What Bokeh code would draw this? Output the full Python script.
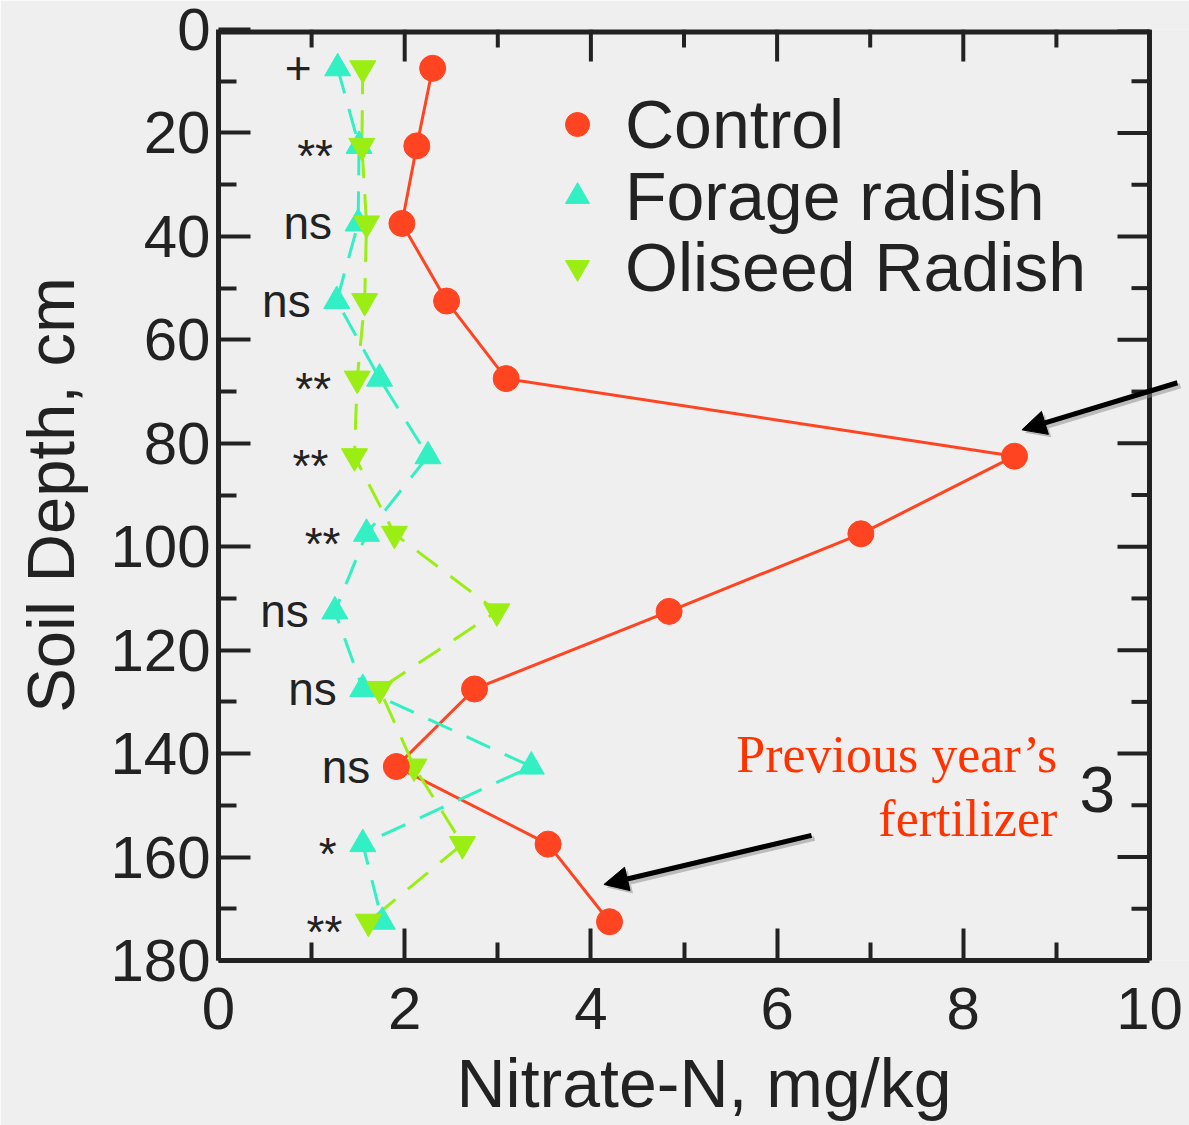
from bokeh.plotting import figure
from bokeh.models import (Range1d, Legend, LegendItem, Arrow, NormalHead,
                          Label, ColumnDataSource, FixedTicker)
from bokeh.embed import file_html
from bokeh.resources import INLINE
from bokeh.core.properties import value

# ---------------- data ----------------
depth = [7.5, 22.5, 37.5, 52.5, 67.5, 82.5, 97.5, 112.5, 127.5, 142.5, 157.5, 172.5]
control = [2.30, 2.13, 1.97, 2.45, 3.09, 8.55, 6.90, 4.84, 2.75, 1.91, 3.54, 4.20]
forage_radish = [1.28, 1.51, 1.50, 1.27, 1.73, 2.25, 1.59, 1.25, 1.55, 3.36, 1.55, 1.76]
oilseed_radish = [1.55, 1.54, 1.59, 1.57, 1.49, 1.46, 1.89, 2.99, 1.73, 2.10, 2.62, 1.61]
significance = ["+", "**", "ns", "ns", "**", "**", "**", "ns", "ns", "ns", "*", "**"]
series_names = ["Control", "Forage radish", "Oliseed Radish"]
x_ticks = [0, 2, 4, 6, 8, 10]
y_ticks = [0, 20, 40, 60, 80, 100, 120, 140, 160, 180]

# ---------------- styles / layout ----------------
FONT = "Liberation Sans"
INK = "#222222"
BG = "#EFEFEF"
C_CONTROL = "#FF4422"
C_FORAGE = "#33F0C4"
C_OILSEED = "#9BEE14"

W, H = 1189, 1125
LEFT, TOP, BOTTOM = 218, 29, 165
AXIS_PX = 931                       # pixels spanned by 0..10 and by 0..180
X_MAX = x_ticks[-1] * (W - LEFT) / AXIS_PX   # frame extends right so arrows can reach the margin
PX_PER_X = AXIS_PX / x_ticks[-1]
PX_PER_Y = AXIS_PX / y_ticks[-1]
MAJ_LEN, MIN_LEN = 32, 18

p = figure(width=W, height=H, x_range=Range1d(0, X_MAX), y_range=Range1d(y_ticks[-1], 0),
           output_backend="svg", toolbar_location=None,
           min_border_left=LEFT, min_border_right=0, min_border_top=TOP,
           min_border_bottom=BOTTOM)
p.background_fill_color = BG
p.border_fill_color = BG
p.outline_line_color = None
p.xgrid.grid_line_color = None
p.ygrid.grid_line_color = None

def minors(ticks):
    step = ticks[1] - ticks[0]
    return [t + step / 2 for t in ticks[:-1]]

def style_axis(ax, ticks):
    ax.ticker = FixedTicker(ticks=ticks, minor_ticks=minors(ticks))
    ax.bounds = (ticks[0], ticks[-1])
    ax.axis_line_color = INK
    ax.axis_line_width = 5
    ax.major_tick_line_color = INK
    ax.major_tick_line_width = 4
    ax.minor_tick_line_color = INK
    ax.minor_tick_line_width = 4
    ax.major_tick_in = MAJ_LEN
    ax.major_tick_out = 0
    ax.minor_tick_in = MIN_LEN
    ax.minor_tick_out = 0
    ax.major_label_text_font = FONT
    ax.major_label_text_color = INK
    ax.major_label_text_font_size = "60px"
    ax.axis_label_text_font = FONT
    ax.axis_label_text_color = INK
    ax.axis_label_text_font_style = "normal"

style_axis(p.xaxis[0], x_ticks)
style_axis(p.yaxis[0], y_ticks)
p.xaxis.axis_label = "Nitrate-N, mg/kg"
p.yaxis.axis_label = "Soil Depth, cm"
p.xaxis.axis_label_text_font_size = "68px"
p.yaxis.axis_label_text_font_size = "67px"
p.xaxis.major_label_standoff = 27
p.xaxis.axis_label_standoff = 13
p.yaxis.major_label_standoff = 8
p.yaxis.axis_label_standoff = 19

# top and right edges of the box with inward ticks (mirror of the axes)
x0, x1 = x_ticks[0], x_ticks[-1]
y0, y1 = y_ticks[0], y_ticks[-1]
p.segment(x0=[x0], y0=[y0], x1=[x1], y1=[y0], line_color=INK, line_width=10)
p.segment(x0=[x1], y0=[y0], x1=[x1], y1=[y1], line_color=INK, line_width=5)
p.segment(x0=x_ticks, y0=[y0] * len(x_ticks), x1=x_ticks,
          y1=[y0 + MAJ_LEN / PX_PER_Y] * len(x_ticks), line_color=INK, line_width=4)
p.segment(x0=minors(x_ticks), y0=[y0] * len(minors(x_ticks)), x1=minors(x_ticks),
          y1=[y0 + MIN_LEN / PX_PER_Y] * len(minors(x_ticks)), line_color=INK, line_width=4)
p.segment(x0=[x1] * len(y_ticks), y0=y_ticks, x1=[x1 - MAJ_LEN / PX_PER_X] * len(y_ticks),
          y1=y_ticks, line_color=INK, line_width=4)
p.segment(x0=[x1] * len(minors(y_ticks)), y0=minors(y_ticks),
          x1=[x1 - MIN_LEN / PX_PER_X] * len(minors(y_ticks)), y1=minors(y_ticks),
          line_color=INK, line_width=4)

src = ColumnDataSource(dict(depth=depth, control=control, forage=forage_radish,
                            oilseed=oilseed_radish))

# lines
p.line("control", "depth", source=src, line_color=C_CONTROL, line_width=3)
p.line("forage", "depth", source=src, line_color=C_FORAGE, line_width=3, line_dash="26 16")
p.line("oilseed", "depth", source=src, line_color=C_OILSEED, line_width=3, line_dash="26 16")

# markers
r_for = p.scatter("forage", "depth", source=src, marker="triangle", size=26,
                  fill_color=C_FORAGE, line_color=C_FORAGE)
r_oil = p.scatter("oilseed", "depth", source=src, marker="inverted_triangle", size=26,
                  fill_color=C_OILSEED, line_color=C_OILSEED)
r_con = p.scatter("control", "depth", source=src, marker="circle", size=26,
                  fill_color=C_CONTROL, line_color=C_CONTROL)

# significance labels left of the lowest value at each depth
sig_x = [min(a, b, c) - 0.28 for a, b, c in zip(control, forage_radish, oilseed_radish)]
sig_off = [10 if "*" in s else 0 for s in significance]
sig_src = ColumnDataSource(dict(x=sig_x, y=depth, text=significance, off=sig_off))
p.text("x", "y", text="text", source=sig_src, y_offset="off",
       text_font=value(FONT), text_font_size="46px", text_color=INK,
       text_align="right", text_baseline="middle")

# legend: one single-item legend per row so the row pitch matches the original
ROW_Y = [797, 725, 654]            # bottom of each row, px above the frame bottom
for name, rend, vy in zip(series_names, [r_con, r_for, r_oil], ROW_Y):
    p.add_layout(Legend(items=[LegendItem(label=name, renderers=[rend])],
                        location=(329, vy), padding=0, margin=0, spacing=0,
                        glyph_width=60, glyph_height=66, label_height=66, label_standoff=18,
                        label_text_font=FONT, label_text_font_size="68px",
                        label_text_color=INK, border_line_color=None,
                        background_fill_alpha=0))

# annotations
def add_arrow(xa, ya, xb, yb):
    dx, dy = 3 / PX_PER_X, 3 / PX_PER_Y
    p.add_layout(Arrow(x_start=xa + dx, y_start=ya + dy, x_end=xb + dx, y_end=yb + dy,
                       line_color="#888888", line_alpha=0.5, line_width=5,
                       end=NormalHead(size=24, fill_color="#888888", fill_alpha=0.5,
                                      line_color=None)))
    p.add_layout(Arrow(x_start=xa, y_start=ya, x_end=xb, y_end=yb,
                       line_color="black", line_width=5,
                       end=NormalHead(size=24, fill_color="black", line_color="black")))

add_arrow(10.30, 68.3, 8.63, 77.4)
add_arrow(6.37, 155.8, 4.14, 165.3)

p.add_layout(Label(x=9.01, y=140.1, text="Previous year\u2019s", text_align="right",
                   text_baseline="alphabetic", text_font="Liberation Serif",
                   text_font_size="52px", text_color="#FF3300"))
p.add_layout(Label(x=9.01, y=152.5, text="fertilizer", text_align="right",
                   text_baseline="alphabetic", text_font="Liberation Serif",
                   text_font_size="52px", text_color="#FF3300"))
p.add_layout(Label(x=9.44, y=146.9, text="3", text_align="center",
                   text_baseline="alphabetic", text_font=FONT,
                   text_font_size="64px", text_color=INK))

open("out.html", "w").write(file_html(p, INLINE))
